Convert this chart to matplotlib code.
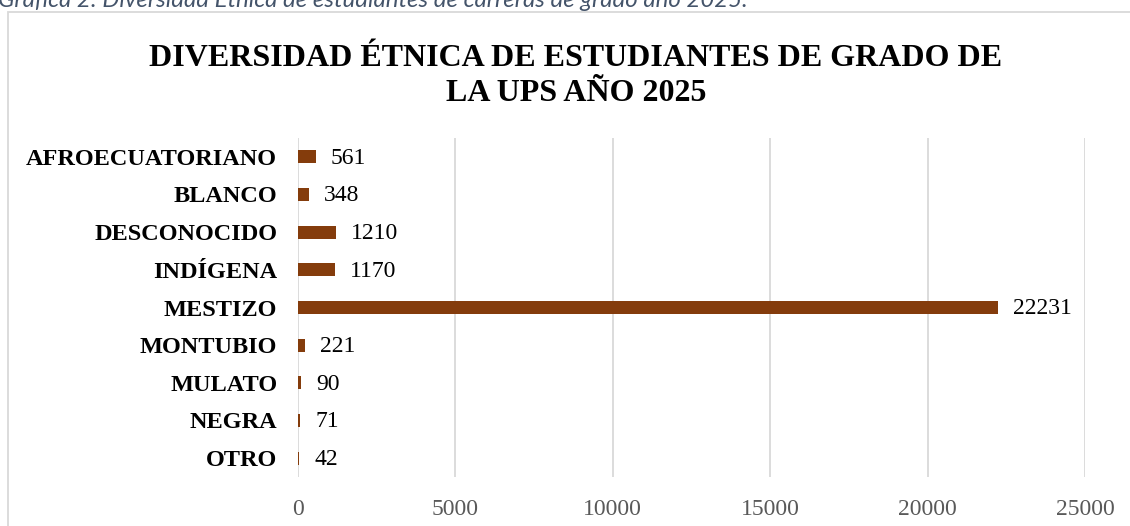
import matplotlib.pyplot as plt
from matplotlib.patches import Rectangle

categorias = ['AFROECUATORIANO', 'BLANCO', 'DESCONOCIDO', 'INDÍGENA', 'MESTIZO',
              'MONTUBIO', 'MULATO', 'NEGRA', 'OTRO']
estudiantes = [561, 348, 1210, 1170, 22231, 221, 90, 71, 42]
xticks = [0, 5000, 10000, 15000, 20000, 25000]

W, H = 1130, 526
fig = plt.figure(figsize=(W / 100, H / 100), dpi=100)

# chart border (bottom and right go past the picture)
fig.patches.append(Rectangle((8 / W, -0.05), 1.2, (H - 12) / H + 0.05,
                             transform=fig.transFigure, fill=False,
                             edgecolor='#D9D9D9', linewidth=1.3))

# caption, cut off at the top like in the source
fig.text(-2 / W, (H - 7) / H, 'Gráfica 2: Diversidad Étnica de estudiantes de carreras de grado año 2025.',
         family='Lato', style='italic', fontsize=17.3, color='#44546A',
         ha='left', va='baseline')

fig.text(576 / W, (H - 66) / H, 'DIVERSIDAD ÉTNICA DE ESTUDIANTES DE GRADO DE',
         family='Liberation Serif', weight='bold', fontsize=23, ha='center', va='baseline')
fig.text(576 / W, (H - 101) / H, 'LA UPS AÑO 2025',
         family='Liberation Serif', weight='bold', fontsize=23, ha='center', va='baseline')

ax = fig.add_axes([298 / W, (H - 477) / H, (1085 - 298) / W, (477 - 138) / H])
pos = list(range(len(categorias)))
ax.barh(pos, estudiantes, height=0.35, color='#843C0C', zorder=3)
for p, v in zip(pos, estudiantes):
    ax.annotate(str(v), (v, p), xytext=(11, -1), textcoords='offset points',
                va='center', ha='left', family='Liberation Serif', fontsize=17, color='black')

ax.set_xlim(0, 25000)
ax.set_ylim(len(categorias) - 0.5, -0.5)
ax.set_xticks(xticks)
ax.set_yticks(pos)
ax.set_yticklabels(categorias, family='Liberation Serif', weight='bold', fontsize=17.5)
ax.set_xticklabels([str(t) for t in xticks], family='Liberation Serif', fontsize=17, color='#595959')
ax.tick_params(axis='both', length=0)
ax.tick_params(axis='y', pad=15)
ax.tick_params(axis='x', pad=16)
ax.grid(axis='x', color='#D9D9D9', linewidth=1.3, zorder=0)
for s in ax.spines.values():
    s.set_visible(False)

fig.savefig('out.png', dpi=100)
